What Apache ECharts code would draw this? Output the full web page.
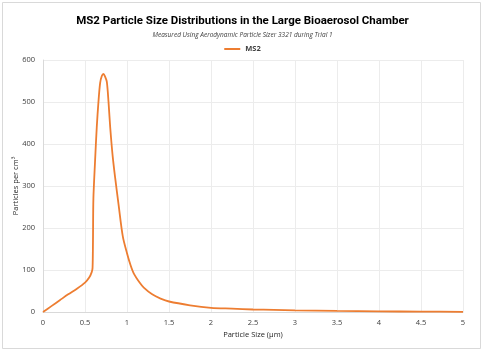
<!DOCTYPE html>
<html><head><meta charset="utf-8">
<script src="https://cdn.jsdelivr.net/npm/echarts@6/dist/echarts.min.js"></script>
<style>html,body{margin:0;padding:0;background:#fff}#c{width:485px;height:353px}</style>
</head><body><div id="c"></div>
<script>
const sizes = [0, 0.1, 0.2, 0.3, 0.4, 0.5, 0.55, 0.58, 0.59, 0.595, 0.60, 0.62, 0.64, 0.66, 0.68, 0.70, 0.72, 0.74, 0.76, 0.78, 0.80, 0.83, 0.86, 0.90, 0.95, 1.0, 1.04, 1.08, 1.15, 1.2, 1.3, 1.4, 1.5, 1.75, 2.0, 2.25, 2.5, 2.75, 3.0, 3.5, 4.0, 4.5, 5.0];
const ms2 = [0, 14, 28, 42, 55, 70, 82, 95, 105, 170, 270, 360, 440, 500, 545, 562, 567, 560, 548, 500, 440, 370, 318, 255, 180, 140, 113, 92, 70, 58, 42, 32, 25, 16, 10, 8, 6, 5, 4, 2.5, 1.5, 1, 0.5];
const xTicks = [0, 0.5, 1, 1.5, 2, 2.5, 3, 3.5, 4, 4.5, 5];
const yTicks = [0, 100, 200, 300, 400, 500, 600];
const title = "MS2 Particle Size Distributions in the Large Bioaerosol Chamber";
const subtitle = "Measured Using Aerodynamic Particle Sizer 3321 during Trial 1";

const chart = echarts.init(document.getElementById('c'), null, {renderer: 'canvas'});
const font = "'Open Sans', 'Liberation Sans', sans-serif";
const titleFont = "Roboto, 'Open Sans', sans-serif";
chart.setOption({
  animation: false,
  backgroundColor: '#fff',
  graphic: [{type: 'rect', shape: {x: 2.5, y: 2.5, width: 478, height: 346}, style: {fill: 'none', stroke: '#d9d9d9', lineWidth: 1}}],
  title: [
    {text: title, left: 'center', top: 10, textStyle: {fontFamily: titleFont, fontSize: 11.5, fontWeight: 'bold', color: '#000'}},
    {text: subtitle, left: 'center', top: 27, textStyle: {fontFamily: font, fontSize: 6.5, fontStyle: 'italic', fontWeight: 'normal', color: '#404040'}}
  ],
  legend: {top: 40, left: 'center', itemWidth: 16, itemHeight: 2, icon: 'rect', textStyle: {fontFamily: font, fontSize: 7.5, fontWeight: 'bold', color: '#404040'}, data: ['MS2']},
  grid: {left: 43, right: 22, top: 60, bottom: 41, containLabel: false, outerBoundsMode: 'none'},
  xAxis: {
    type: 'value', min: 0, max: 5, interval: 0.5,
    name: 'Particle Size (µm)', nameLocation: 'middle', nameGap: 19, nameMoveOverlap: false,
    nameTextStyle: {fontFamily: font, fontSize: 7.5, color: '#262626'},
    axisLine: {show: true, lineStyle: {color: '#d9d9d9'}},
    axisTick: {show: false},
    axisLabel: {fontFamily: font, fontSize: 7.5, color: '#404040', margin: 7, formatter: v => xTicks.includes(v) ? String(v) : ''},
    splitLine: {show: true, lineStyle: {color: '#ececec'}}
  },
  yAxis: {
    type: 'value', min: 0, max: 600, interval: 100,
    name: 'Particles per cm³', nameLocation: 'middle', nameGap: 23, nameMoveOverlap: false,
    nameTextStyle: {fontFamily: font, fontSize: 7.5, color: '#262626'},
    axisLine: {show: true, lineStyle: {color: '#d9d9d9'}},
    axisTick: {show: false},
    axisLabel: {fontFamily: font, fontSize: 7.5, color: '#404040', margin: 8, formatter: v => yTicks.includes(v) ? String(v) : ''},
    splitLine: {show: true, lineStyle: {color: '#ececec'}}
  },
  series: [{
    name: 'MS2', type: 'line', smooth: 0.3, showSymbol: false,
    lineStyle: {color: '#ED7D31', width: 1.8}, itemStyle: {color: '#ED7D31'},
    data: sizes.map((s, i) => [s, ms2[i]])
  }]
});
</script></body></html>
